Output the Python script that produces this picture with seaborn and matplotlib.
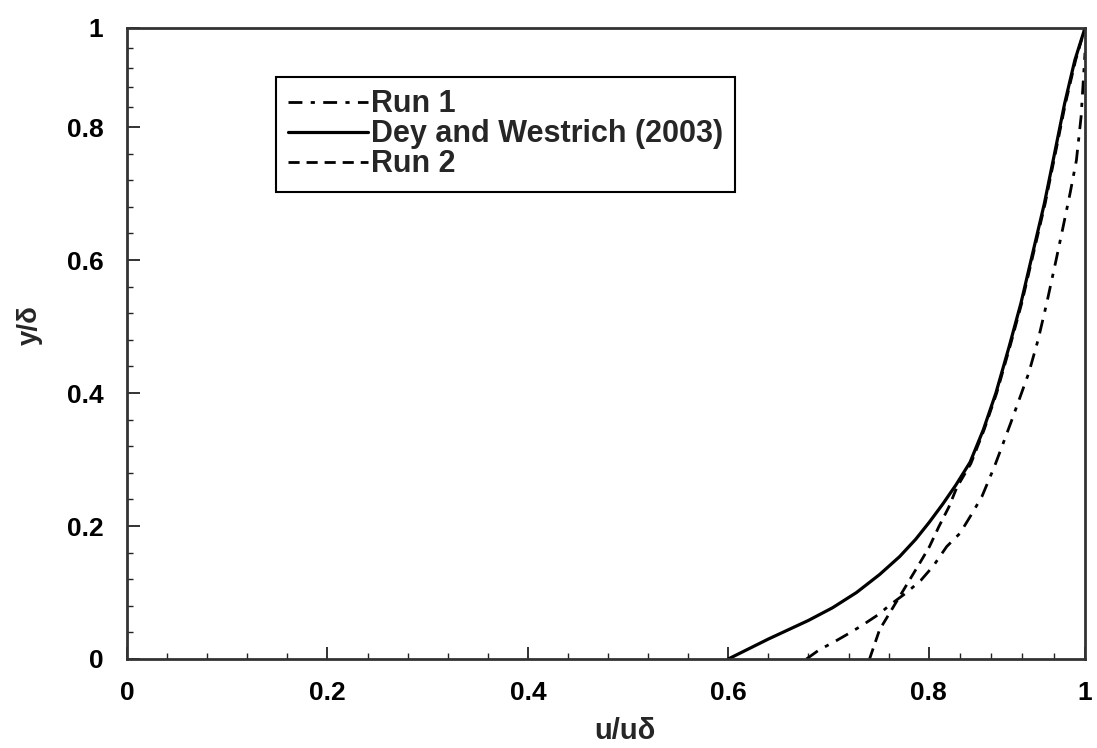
import numpy as np
import pandas as pd
import matplotlib
matplotlib.use("Agg")
import matplotlib.pyplot as plt
import seaborn as sns
from matplotlib.ticker import MultipleLocator, FuncFormatter

# ---- data ----
run1_x = [0.678, 0.691, 0.706, 0.721, 0.734, 0.749, 0.762, 0.778, 0.792, 0.806,
          0.823, 0.840, 0.853, 0.868, 0.884, 0.892, 0.905, 0.928, 0.940, 0.951,
          0.963, 0.972, 0.981, 0.989, 0.995, 1.0]
run1_y = [0.0, 0.014, 0.026, 0.039, 0.051, 0.066, 0.082, 0.100, 0.118, 0.140,
          0.169, 0.189, 0.214, 0.244, 0.289, 0.314, 0.355, 0.430, 0.480, 0.535,
          0.600, 0.650, 0.701, 0.750, 0.821, 0.95]

dey_x = [0.600, 0.620, 0.640, 0.660, 0.680, 0.704, 0.728, 0.751, 0.771, 0.787,
         0.801, 0.818, 0.835, 0.853, 0.870, 0.886, 0.903, 0.918, 0.933, 0.948,
         0.961, 0.974, 0.987, 1.0]
dey_y = [0.0, 0.015, 0.030, 0.044, 0.058, 0.077, 0.100, 0.127, 0.154, 0.180,
         0.206, 0.233, 0.262, 0.296, 0.345, 0.400, 0.470, 0.535, 0.610, 0.685,
         0.760, 0.848, 0.935, 1.0]

run2_x = [0.741, 0.751, 0.761, 0.781, 0.791, 0.801, 0.813, 0.826, 0.836, 0.854,
          0.871, 0.887, 0.904, 0.919, 0.934, 0.949, 0.962, 0.975, 0.988, 1.0]
run2_y = [0.0, 0.044, 0.069, 0.119, 0.144, 0.169, 0.199, 0.229, 0.258, 0.294,
          0.345, 0.400, 0.470, 0.535, 0.610, 0.685, 0.760, 0.848, 0.935, 1.0]

series_names = ["Run 1", "Dey and Westrich (2003)", "Run 2"]
x_ticks = [0, 0.2, 0.4, 0.6, 0.8, 1.0]
y_ticks = [0, 0.2, 0.4, 0.6, 0.8, 1.0]

sns.set_theme(style="white")
plt.rcParams["font.family"] = ["Liberation Sans", "DejaVu Sans"]
plt.rcParams["font.weight"] = "bold"

fig = plt.figure(figsize=(10.97, 7.48), dpi=100)
ax = fig.add_axes([127 / 1097, 1 - 659 / 748, 958 / 1097, 631 / 748])

# the reference axes compress the last interval (0.8 -> 1)
def make_scale(r):
    def fwd(v):
        v = np.asarray(v, dtype=float)
        return np.where(v <= 0.8, v, 0.8 + (v - 0.8) * r)
    def inv(v):
        v = np.asarray(v, dtype=float)
        return np.where(v <= 0.8, v, 0.8 + (v - 0.8) / r)
    return fwd, inv

ax.set_xscale("function", functions=make_scale(0.78))
ax.set_yscale("function", functions=make_scale(0.745))

styles = [(0, (5, 3, 1.5, 3)), "-", (0, (4, 2.5))]
widths = [2.0, 2.3, 2.0]
data = [(run1_x, run1_y), (dey_x, dey_y), (run2_x, run2_y)]
for name, (xs, ys), ls, lw in zip(series_names, data, styles, widths):
    df = pd.DataFrame({"x": xs, "y": ys})
    sns.lineplot(data=df, x="x", y="y", ax=ax, sort=False, estimator=None,
                 color="black", linewidth=lw, linestyle=ls, label=name)

ax.set_xlim(0, 1)
ax.set_ylim(0, 1)
ax.set_xticks(x_ticks)
ax.set_yticks(y_ticks)
ax.xaxis.set_minor_locator(MultipleLocator(0.04))
ax.yaxis.set_minor_locator(MultipleLocator(0.04))
fmt = FuncFormatter(lambda v, p: f"{v:g}")
ax.xaxis.set_major_formatter(fmt)
ax.yaxis.set_major_formatter(fmt)
ax.tick_params(axis="both", which="major", direction="in", length=9, width=1.3,
               labelsize=19, colors="#222222", labelcolor="black",
               bottom=True, left=True, top=False, right=False)
ax.tick_params(axis="x", which="major", pad=16)
ax.tick_params(axis="y", which="major", pad=17)
ax.tick_params(axis="both", which="minor", direction="in", length=4, width=1.0,
               colors="#222222", bottom=True, left=True, top=False, right=False)
for lab in ax.get_xticklabels() + ax.get_yticklabels():
    lab.set_fontweight("bold")

for sp in ax.spines.values():
    sp.set_color("#333333")
    sp.set_linewidth(2.0)

ax.set_xlabel("u/uδ", fontsize=21, fontweight="bold")
ax.set_ylabel("y/δ", fontsize=20, fontweight="bold")
ax.xaxis.set_label_coords(0.52, -0.114)
ax.yaxis.set_label_coords(-0.101, 0.529)
ax.xaxis.label.set_va("center")
ax.yaxis.label.set_va("center")

leg = ax.legend(loc="upper left", bbox_to_anchor=(0.1555, 0.922), borderaxespad=0,
                frameon=True, fancybox=False, edgecolor="black", framealpha=1,
                fontsize=22, handlelength=2.6, handletextpad=0.1,
                labelspacing=0.0, borderpad=0.4)
leg.get_frame().set_linewidth(1.5)
for t in leg.get_texts():
    t.set_fontweight("bold")

fig.savefig("out.png", dpi=100)
